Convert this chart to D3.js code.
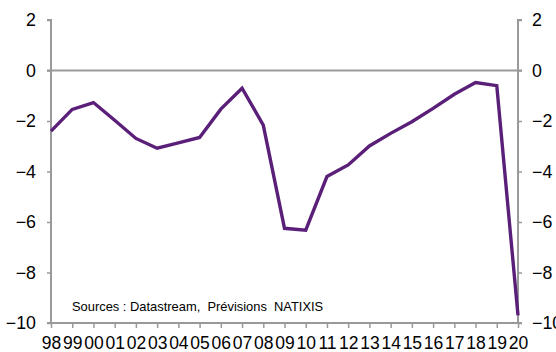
<!DOCTYPE html>
<html><head><meta charset="utf-8">
<script src="https://cdn.jsdelivr.net/npm/d3@7"></script>
<style>
body{margin:0;background:#fff;}
svg{display:block;font-family:"Liberation Sans",Arial,sans-serif;}
</style></head><body>
<svg id="c" width="556" height="352"></svg>
<script>
const categories = ["98","99","00","01","02","03","04","05","06","07","08","09","10","11","12","13","14","15","16","17","18","19","20"];
const values = [-2.4,-1.54,-1.27,-1.97,-2.69,-3.08,-2.87,-2.65,-1.53,-0.7,-2.16,-6.25,-6.32,-4.2,-3.74,-2.99,-2.49,-2.03,-1.5,-0.94,-0.48,-0.6,-9.7];
const yTicks = [2,0,-2,-4,-6,-8,-10];
const sourceText = "Sources : Datastream,  Prévisions  NATIXIS";

const svg = d3.select("#c");
const L = 51, R = 518, T = 20, B = 323;
const x = d3.scalePoint().domain(categories).range([L, R]);
const y = d3.scaleLinear().domain([-10, 2]).range([B, T]);
const grey = "#999999";

svg.append("line").attr("x1", L - 4).attr("x2", R + 4).attr("y1", y(0)).attr("y2", y(0))
  .attr("stroke", grey).attr("stroke-width", 2);

const la = svg.append("g").attr("transform", `translate(${L},0)`)
  .call(d3.axisLeft(y).tickValues(yTicks).tickSize(4).tickPadding(11).tickFormat(d3.format("d")));
const ra = svg.append("g").attr("transform", `translate(${R},0)`)
  .call(d3.axisRight(y).tickValues(yTicks).tickSize(4).tickPadding(10).tickFormat(d3.format("d")));
const ba = svg.append("g").attr("transform", `translate(0,${B})`)
  .call(d3.axisBottom(x).tickSize(5).tickPadding(9));

[la, ra, ba].forEach(g => {
  g.select(".domain").attr("stroke", grey).attr("stroke-width", 2);
  g.selectAll(".tick line").attr("stroke", grey).attr("stroke-width", 1.5);
  g.selectAll("text").attr("fill", "#000").attr("font-size", 17.8)
    .attr("font-family", "Liberation Sans, Arial, sans-serif");
});
ba.selectAll("text").attr("font-size", 17.5);
la.select(".domain").attr("d", `M-4,${T}H0V${B}`);
ra.select(".domain").attr("d", `M4,${T}H0V${B}`);
ba.select(".domain").attr("d", `M${L-4},0H${R+4}`);

svg.append("path").datum(values)
  .attr("fill", "none").attr("stroke", "#5a1f78").attr("stroke-width", 3.4)
  .attr("stroke-linejoin", "miter")
  .attr("d", d3.line().x((d, i) => x(categories[i])).y(d => y(d)));

svg.append("text").attr("x", 72).attr("y", 311).attr("font-size", 12.9)
  .attr("xml:space", "preserve").style("white-space", "pre").attr("fill", "#000")
  .text(sourceText);
</script>
</body></html>
